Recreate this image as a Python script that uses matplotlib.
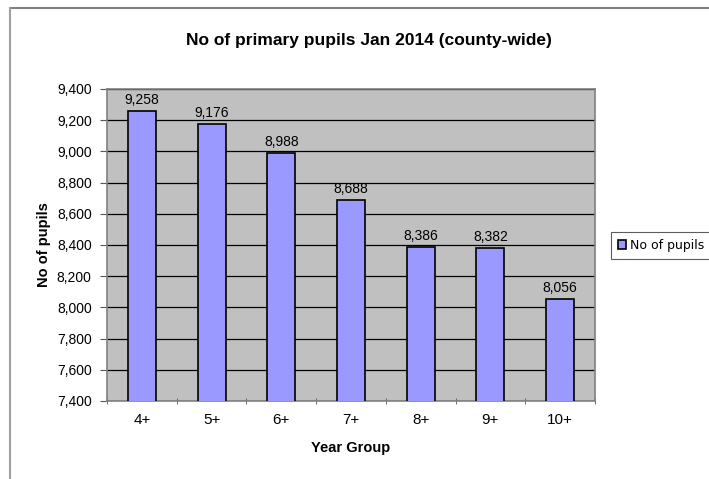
import numpy as np
import matplotlib.pyplot as plt
from matplotlib.lines import Line2D

years = ['4+', '5+', '6+', '7+', '8+', '9+', '10+']
pupils = [9258, 9176, 8988, 8688, 8386, 8382, 8056]
yticks = np.arange(7400, 9401, 200)

W, H = 709, 479
fig = plt.figure(figsize=(W / 100, H / 100), dpi=100)
fig.patch.set_facecolor('white')

def px(x0, y0, x1, y1):
    # pixel box (top-left origin) -> figure fraction rect
    return [x0 / W, 1 - y1 / H, (x1 - x0) / W, (y1 - y0) / H]

ax = fig.add_axes(px(107, 89, 595, 401))
ax.set_facecolor('#c0c0c0')

x = np.arange(len(years))
ax.bar(x, pupils, width=0.40, color='#9999ff', edgecolor='black',
       linewidth=1.2, zorder=3, label='No of pupils')
for xi, v in zip(x, pupils):
    ax.text(xi, v + 25, f'{v:,}', ha='center', va='bottom',
            fontsize=10, family='Liberation Sans', zorder=4)

ax.set_xlim(-0.5, len(years) - 0.5)
ax.set_ylim(7400, 9400)
ax.set_yticks(yticks)
ax.set_yticklabels([f'{t:,}' for t in yticks], family='Liberation Sans', fontsize=10)
ax.yaxis.grid(True, color='black', linewidth=0.9, zorder=1)

ax.set_xticks(x)
ax.set_xticklabels(years, family='Liberation Sans', fontsize=11)
ax.set_xticks(np.arange(-0.5, len(years)), minor=True)
ax.tick_params(axis='x', which='major', length=0, pad=9)
ax.tick_params(axis='x', which='minor', length=5, direction='inout', color='#555555')
ax.tick_params(axis='y', length=5, direction='out', color='#555555', pad=6)

for s in ax.spines.values():
    s.set_color('#808080')
    s.set_linewidth(1.2)

ax.set_xlabel('Year Group', family='Liberation Sans', fontweight='bold',
              fontsize=10.5, labelpad=10)
ax.set_ylabel('No of pupils', family='Liberation Sans', fontweight='bold',
              fontsize=10.5, labelpad=4)

fig.text(369 / W, 1 - 41 / H, 'No of primary pupils Jan 2014 (county-wide)',
         ha='center', va='center', family='Liberation Sans',
         fontweight='bold', fontsize=12.5)

leg = fig.legend(loc='upper left', bbox_to_anchor=(611 / W, 1 - 232 / H),
                 prop={'family': 'DejaVu Sans', 'size': 9},
                 frameon=True, fancybox=False, handlelength=0.65,
                 handleheight=0.65, handletextpad=0.3, borderpad=0.55,
                 borderaxespad=0)
leg.get_frame().set_edgecolor('#333333')
leg.get_frame().set_linewidth(0.8)

# chart outer border (top and left edges)
fig.add_artist(Line2D([9.5 / W, 1], [1 - 7.5 / H, 1 - 7.5 / H],
                      color='#808080', linewidth=1.5))
fig.add_artist(Line2D([9.5 / W, 9.5 / W], [0, 1 - 7.5 / H],
                      color='#a0a0a0', linewidth=1.5))

fig.savefig('out.png', dpi=100)
